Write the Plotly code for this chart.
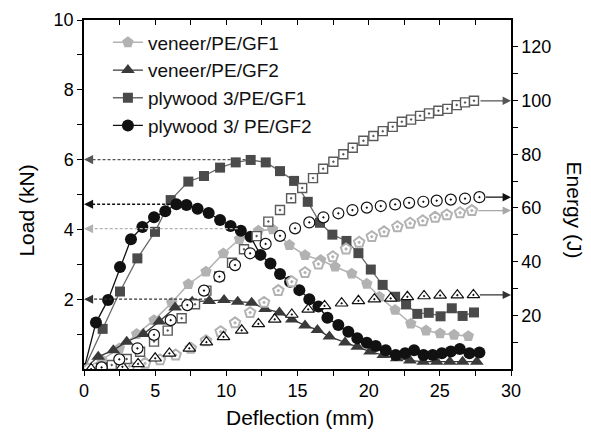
import plotly.graph_objects as go

# ---------------- data ----------------
# Load curves (kN) vs deflection (mm)
vg1_d = [0, 1.24, 2.48, 3.70, 4.92, 6.16, 7.33, 8.57, 9.79, 10.92, 12.25, 13.26, 14.43, 15.53, 16.63,
         17.64, 18.81, 19.87, 20.75, 21.86, 22.96, 24.03, 25.02, 26.0, 27.0]
vg1_L = [0, 0.26, 0.59, 1.00, 1.40, 1.90, 2.43, 2.79, 3.31, 3.72, 3.96, 4.00, 3.55, 3.26, 3.12,
         2.93, 2.73, 2.44, 2.07, 1.69, 1.30, 1.10, 1.02, 0.98, 0.94]

vg2_d = [0, 1.0, 2.06, 3.0, 4.17, 5.29, 6.4, 7.6, 8.8, 9.84, 10.8, 11.78, 12.72, 13.73, 14.6, 15.53,
         16.4, 17.24, 18.34, 19.2, 20.1, 21.03, 21.97, 22.9, 23.84, 24.78, 25.7, 26.6, 27.6]
vg2_L = [0, 0.35, 0.54, 0.78, 1.00, 1.36, 1.76, 1.93, 1.95, 1.98, 1.93, 1.90, 1.72, 1.62, 1.42, 1.25,
         1.12, 0.93, 0.76, 0.64, 0.50, 0.40, 0.31, 0.24, 0.21, 0.21, 0.21, 0.21, 0.21]

pg1_d = [0, 1.31, 2.53, 3.75, 4.99, 6.09, 7.33, 8.43, 9.56, 10.66, 11.71, 12.77, 13.77, 14.76, 15.72,
         16.58, 17.45, 18.44, 19.28, 20.15, 20.98, 21.86, 22.63, 23.42, 24.22, 25.05, 25.84, 26.6, 27.4]
pg1_L = [0, 1.15, 2.22, 3.17, 3.93, 4.84, 5.37, 5.53, 5.77, 5.92, 5.99, 5.92, 5.67, 5.39, 4.79,
         4.19, 3.85, 3.67, 3.32, 2.85, 2.41, 2.07, 1.85, 1.58, 1.61, 1.51, 1.74, 1.52, 1.62]

pg2_d = [0, 0.84, 1.69, 2.53, 3.30, 4.10, 4.92, 5.71, 6.49, 7.20, 7.98, 8.76, 9.56, 10.30, 11.02,
         11.70, 12.40, 13.10, 13.77, 14.48, 15.13, 15.83, 16.47, 17.10, 17.87, 18.57, 19.20, 19.87,
         20.50, 21.20, 21.90, 22.56, 23.19, 23.85, 24.50, 25.14, 25.77, 26.40, 27.08, 27.78]
pg2_L = [0, 1.33, 1.98, 2.92, 3.72, 4.07, 4.35, 4.52, 4.72, 4.70, 4.59, 4.47, 4.27, 4.10, 3.96,
         3.79, 3.27, 3.02, 2.72, 2.50, 2.26, 2.00, 1.79, 1.47, 1.26, 1.07, 0.88, 0.75,
         0.66, 0.54, 0.40, 0.45, 0.54, 0.40, 0.40, 0.45, 0.50, 0.57, 0.45, 0.47]

# Energy curves (J) vs deflection (mm)
evg1_d = [0.3, 1.2, 2.2, 3.2, 4.29, 5.34, 6.44, 7.5, 8.57, 9.6, 10.61, 11.67, 12.65, 13.65, 14.6,
          15.53, 16.47, 17.48, 18.41, 19.33, 20.22, 21.08, 22.02, 22.91, 23.8, 24.67, 25.49, 26.42, 27.25]
evg1_E = [0, 0.2, 0.5, 1.1, 2.1, 3.4, 5.2, 7.7, 10.5, 13.9, 17.2, 21.0, 24.8, 29.2, 32.5,
          35.9, 39.1, 41.8, 44.7, 47.2, 49.3, 51.1, 53.0, 54.3, 55.2, 56.5, 57.4, 58.2, 59.0]

evg2_d = [0.5, 1.6, 2.7, 3.8, 5.0, 6.0, 7.4, 8.6, 9.8, 11.08, 12.25, 13.4, 14.6, 15.75, 16.9,
          18.1, 19.28, 20.4, 21.55, 22.72, 23.89, 25.02, 26.23, 27.36]
evg2_E = [0, 0.3, 0.8, 1.9, 4.0, 5.8, 7.7, 10.0, 12.0, 14.4, 16.8, 18.5, 20.3, 22.2, 23.5,
          24.5, 25.4, 26.0, 26.3, 26.9, 27.2, 27.4, 27.5, 27.6]

epg1_d = [1.2, 1.95, 3.0, 3.94, 4.92, 5.88, 6.86, 7.8, 8.6, 9.5, 10.4, 11.24, 12.13, 12.95, 13.77,
          14.55, 15.33, 16.09, 16.8, 17.52, 18.22, 18.88, 19.63, 20.33, 20.99, 21.69, 22.33, 22.98,
          23.61, 24.24, 24.9, 25.53, 26.19, 26.77, 27.4]
epg1_E = [0.4, 1.5, 3.7, 6.4, 10.2, 14.3, 18.9, 24.1, 29.2, 34.5, 39.6, 44.6, 49.5, 54.9, 59.2,
          63.6, 67.4, 71.1, 74.6, 77.2, 80.0, 82.4, 85.0, 86.8, 88.6, 90.2, 92.1, 92.9,
          94.3, 95.2, 96.2, 96.9, 98.3, 99.3, 99.9]

epg2_d = [1.24, 2.48, 3.75, 4.92, 6.09, 7.26, 8.43, 9.51, 10.61, 11.67, 12.76, 13.77, 14.83, 15.83,
          16.82, 17.87, 18.86, 19.87, 20.85, 21.86, 22.84, 23.84, 24.78, 25.77, 26.77, 27.78]
epg2_E = [0.6, 3.6, 7.7, 12.7, 18.2, 23.8, 29.2, 34.4, 38.7, 43.1, 46.6, 49.6, 52.4, 54.6,
          56.5, 58.0, 59.2, 60.1, 60.7, 61.3, 61.9, 62.3, 62.7, 63.1, 63.5, 64.0]

# dashed reference arrows on the load axis: (load level, deflection where it starts)
load_marks = [6.0, 4.72, 4.02, 2.0]
load_mark_from = [11.7, 6.4, 10.8, 9.0]

names = ["veneer/PE/GF1", "veneer/PE/GF2", "plywood 3/PE/GF1", "plywood 3/ PE/GF2"]
x_ticks = [0, 5, 10, 15, 20, 25, 30]
load_ticks = [2, 4, 6, 8, 10]
energy_ticks = [20, 40, 60, 80, 100, 120]

# ---------------- styles ----------------
FONT = "Liberation Sans, Arial, sans-serif"
C_LG = "#b2b2b2"   # light gray
C_DG = "#3a3a3a"   # dark gray
C_SQ = "#4a4a4a"   # square fill
C_SQL = "#6a6a6a"  # square line
C_BK = "#111111"

fig = go.Figure()

# load traces (legend)
fig.add_trace(go.Scatter(x=vg1_d, y=vg1_L, name=names[0], mode="lines+markers",
                         line=dict(color=C_LG, width=1.5),
                         marker=dict(symbol="pentagon", size=12, color=C_LG, line=dict(width=0))))
fig.add_trace(go.Scatter(x=vg2_d, y=vg2_L, name=names[1], mode="lines+markers",
                         line=dict(color=C_DG, width=1.3),
                         marker=dict(symbol="triangle-up", size=12, color=C_DG, line=dict(width=0))))
fig.add_trace(go.Scatter(x=pg1_d, y=pg1_L, name=names[2], mode="lines+markers",
                         line=dict(color=C_SQL, width=1.3),
                         marker=dict(symbol="square", size=10, color=C_SQ, line=dict(width=0))))
fig.add_trace(go.Scatter(x=pg2_d, y=pg2_L, name=names[3], mode="lines+markers",
                         line=dict(color=C_BK, width=1.3),
                         marker=dict(symbol="circle", size=12, color=C_BK, line=dict(width=0))))

# energy traces (right axis)
fig.add_trace(go.Scatter(x=evg1_d, y=evg1_E, yaxis="y2", mode="markers", showlegend=False,
                         marker=dict(symbol="pentagon-dot", size=11, color="white",
                                     line=dict(color=C_LG, width=2))))
fig.add_trace(go.Scatter(x=evg2_d, y=evg2_E, yaxis="y2", mode="markers", showlegend=False,
                         marker=dict(symbol="triangle-up-dot", size=11, color="white",
                                     line=dict(color=C_BK, width=1.2))))
fig.add_trace(go.Scatter(x=epg1_d, y=epg1_E, yaxis="y2", mode="markers", showlegend=False,
                         marker=dict(symbol="square-dot", size=9, color="white",
                                     line=dict(color="#5a5a5a", width=1.4))))
fig.add_trace(go.Scatter(x=epg2_d, y=epg2_E, yaxis="y2", mode="markers", showlegend=False,
                         marker=dict(symbol="circle-dot", size=11, color="white",
                                     line=dict(color=C_BK, width=1.2))))
# top mirror axis carrier (no points)
fig.add_trace(go.Scatter(x=[], y=[], xaxis="x2", showlegend=False, hoverinfo="skip"))

shapes = []
annotations = []
mark_colors = ["#555555", C_BK, C_LG, "#333333"]
for L, d0, c in zip(load_marks, load_mark_from, mark_colors):
    shapes.append(dict(type="line", xref="x", yref="y", x0=d0, x1=0.6, y0=L, y1=L,
                       line=dict(color=c, width=1.3, dash="3px,2px")))
    annotations.append(dict(x=0, y=L, xref="x", yref="y", ax=0.7, ay=L, axref="x", ayref="y",
                            showarrow=True, arrowhead=2, arrowsize=1.4, arrowwidth=1.3,
                            arrowcolor=c, text="", standoff=0))

energy_ends = [(epg1_d[-1], epg1_E[-1], "#555555"), (epg2_d[-1], epg2_E[-1], C_BK),
               (evg1_d[-1], evg1_E[-1], "#a8a8a8"), (evg2_d[-1], evg2_E[-1], "#333333")]
for d, E, c in energy_ends:
    annotations.append(dict(x=30, y=E, xref="x", yref="y2", ax=d + 0.35, ay=E, axref="x", ayref="y2",
                            showarrow=True, arrowhead=2, arrowsize=1.4, arrowwidth=1.2,
                            arrowcolor=c, text="", standoff=0))

# axis titles as annotations
annotations.append(dict(text="Load (kN)", xref="paper", yref="paper", x=-0.135, y=0.455,
                        xanchor="center", yanchor="middle",
                        showarrow=False, textangle=-90, font=dict(family=FONT, size=21, color="black")))
annotations.append(dict(text="Energy (J)", xref="paper", yref="paper", x=1.149, y=0.455,
                        xanchor="center", yanchor="middle",
                        showarrow=False, textangle=90, font=dict(family=FONT, size=21, color="black")))
annotations.append(dict(text="Deflection (mm)", xref="paper", yref="paper", x=0.505, y=-0.1,
                        xanchor="center", yanchor="top", showarrow=False,
                        font=dict(family=FONT, size=21, color="black")))

x_vals = [v / 2 for v in range(0, 61, 5)]
x_text = [str(int(v)) if v in x_ticks else "" for v in x_vals]
l_vals = list(range(1, 11))
l_text = [str(v) if v in load_ticks else "" for v in l_vals]
e_vals = list(range(10, 121, 10))
e_text = [str(v) if v in energy_ticks else "" for v in e_vals]

axis_common = dict(showgrid=False, zeroline=False, showline=True, linecolor="black", linewidth=1.5,
                   ticklen=5, tickwidth=1.3, tickcolor="black",
                   tickfont=dict(family=FONT, size=18, color="black"))

fig.update_layout(
    width=591, height=439,
    margin=dict(l=84, r=80, t=20, b=70, autoexpand=False),
    paper_bgcolor="white", plot_bgcolor="white",
    font=dict(family=FONT, color="black"),
    xaxis=dict(range=[0, 30], tickmode="array", tickvals=x_vals, ticktext=x_text, ticks="outside",
               **axis_common),
    xaxis2=dict(range=[0, 30], overlaying="x", side="top", anchor="y", tickmode="array",
                tickvals=x_vals, ticks="inside", showticklabels=False, **axis_common),
    yaxis=dict(range=[0, 10], tickmode="array", tickvals=l_vals, ticktext=l_text, ticks="outside",
               **axis_common),
    yaxis2=dict(range=[0, 130], overlaying="y", side="right", anchor="x", tickmode="array",
                tickvals=e_vals, ticktext=e_text, ticks="outside", **axis_common),
    legend=dict(x=0.056, y=0.99, xanchor="left", yanchor="top", bgcolor="rgba(0,0,0,0)",
                font=dict(family=FONT, size=19, color="#111111"), tracegroupgap=0, itemwidth=30),
    shapes=shapes,
    annotations=annotations,
    showlegend=True,
)

fig.write_html("out.html", config={"displayModeBar": False},
               post_script="document.body.style.margin='0';document.body.style.overflow='hidden';")
